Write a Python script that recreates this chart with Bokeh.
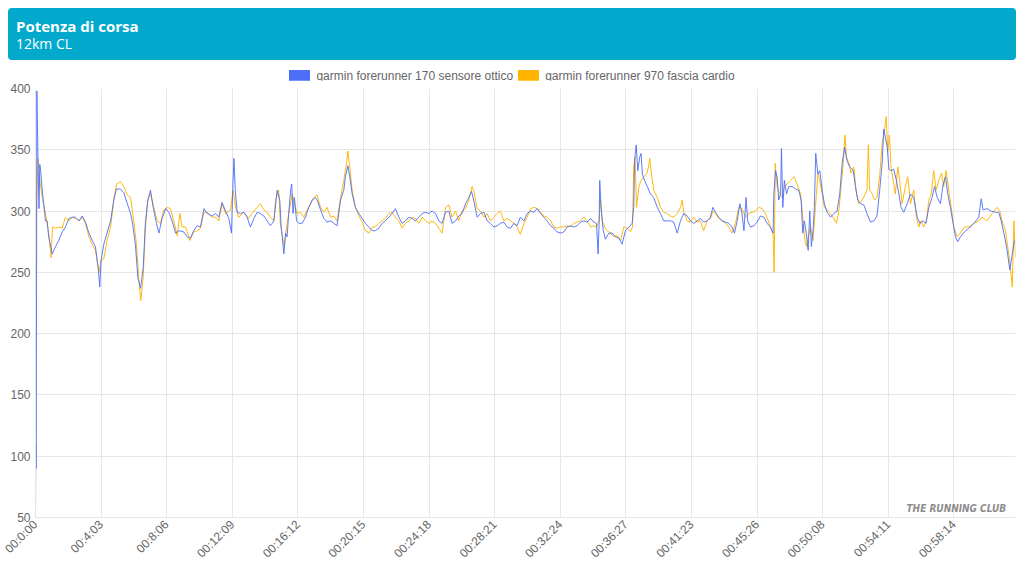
from bokeh.plotting import figure
from bokeh.models import Range1d, FixedTicker, Label, Div
from bokeh.layouts import column
from bokeh.embed import file_html
from bokeh.resources import INLINE
import math

TITLE = "Potenza di corsa"
SUBTITLE = "12km CL"
BLUE_NAME = "garmin forerunner 170 sensore ottico"
YELLOW_NAME = "garmin forerunner 970 fascia cardio"
WATERMARK = "THE RUNNING CLUB"
BLUE = "#4d6ef7"
YELLOW = "#ffb400"
HEADER_BG = "#02a9cc"

tick_idx = [0, 243, 486, 729, 972, 1215, 1458, 1701, 1944, 2187, 2430, 2673, 2916, 3159, 3402]
tick_labels = ["00:0:00", "00:4:03", "00:8:06", "00:12:09", "00:16:12", "00:20:15", "00:24:18",
               "00:28:21", "00:32:24", "00:36:27", "00:41:23", "00:45:26", "00:50:08",
               "00:54:11", "00:58:14"]
n_samples = 3630
y_ticks = [50, 100, 150, 200, 250, 300, 350, 400]

blue_idx = [0, 1, 2, 3, 5, 9, 13, 16, 19, 25, 37, 43, 49, 62, 74, 86, 99, 111, 124, 136, 148, 161, 173,
            185, 198, 210, 222, 232, 238, 243, 253, 265, 278, 290, 300, 315, 327, 340, 352, 358, 370,
            379, 389, 399, 407, 416, 426, 436, 448, 457, 469, 482, 494, 506, 519, 531, 549, 562, 574,
            586, 599, 611, 624, 636, 654, 667, 679, 691, 704, 716, 726, 730, 735, 740, 747, 759, 772,
            784, 796, 809, 821, 833, 846, 858, 870, 883, 895, 905, 910, 914, 920, 926, 932, 938, 945,
            949, 954, 959, 967, 975, 988, 1000, 1012, 1025, 1037, 1043, 1056, 1068, 1080, 1093, 1105,
            1117, 1130, 1142, 1148, 1157, 1164, 1173, 1185, 1198, 1210, 1222, 1235, 1247, 1259, 1272,
            1284, 1296, 1309, 1321, 1333, 1346, 1358, 1370, 1383, 1395, 1407, 1420, 1432, 1445, 1457,
            1469, 1482, 1494, 1506, 1519, 1531, 1543, 1556, 1568, 1580, 1593, 1605, 1615, 1623, 1636,
            1648, 1661, 1673, 1685, 1698, 1710, 1722, 1735, 1747, 1759, 1772, 1784, 1796, 1809, 1821,
            1834, 1846, 1858, 1871, 1883, 1895, 1908, 1920, 1932, 1945, 1957, 1969, 1982, 1994, 2006,
            2019, 2031, 2043, 2056, 2068, 2078, 2084, 2088, 2090, 2095, 2103, 2111, 2124, 2136, 2148,
            2161, 2173, 2185, 2198, 2210, 2216, 2219, 2225, 2231, 2238, 2243, 2248, 2256, 2266, 2278,
            2290, 2303, 2315, 2327, 2340, 2352, 2364, 2377, 2389, 2401, 2414, 2426, 2438, 2451, 2463,
            2475, 2488, 2500, 2509, 2519, 2531, 2543, 2556, 2568, 2580, 2589, 2599, 2609, 2617, 2624,
            2632, 2638, 2648, 2661, 2673, 2685, 2698, 2710, 2722, 2732, 2735, 2741, 2747, 2753, 2760,
            2763, 2768, 2774, 2782, 2790, 2803, 2815, 2827, 2836, 2842, 2848, 2855, 2862, 2868, 2874,
            2880, 2885, 2890, 2898, 2905, 2914, 2922, 2932, 2945, 2957, 2969, 2979, 2988, 2997, 3006,
            3016, 3029, 3037, 3046, 3056, 3068, 3080, 3093, 3105, 3117, 3127, 3136, 3142, 3148, 3155,
            3161, 3169, 3179, 3189, 3198, 3206, 3216, 3229, 3241, 3253, 3266, 3276, 3288, 3298, 3309,
            3321, 3330, 3340, 3352, 3362, 3371, 3379, 3389, 3399, 3408, 3416, 3426, 3441, 3457, 3476,
            3494, 3503, 3510, 3525, 3540, 3556, 3568, 3577, 3587, 3599, 3609, 3618, 3626]
blue_val = [50, 110, 90, 112, 398, 345, 302, 338, 333, 317, 292, 292, 279, 265, 271, 276, 283, 287, 294,
            295, 295, 292, 296, 291, 282, 276, 271, 254, 238, 260, 273, 282, 292, 309, 318, 318, 315,
            306, 298, 292, 273, 246, 237, 254, 290, 309, 317, 303, 290, 282, 294, 302, 299, 292, 282,
            284, 283, 279, 278, 284, 288, 287, 302, 298, 296, 298, 295, 307, 300, 294, 282, 314, 343,
            317, 299, 298, 299, 295, 287, 294, 299, 298, 296, 292, 288, 292, 317, 309, 287, 279, 265,
            282, 279, 298, 317, 322, 298, 311, 292, 290, 290, 295, 303, 309, 311, 309, 301, 294, 291,
            292, 290, 288, 309, 317, 328, 337, 328, 314, 303, 298, 294, 290, 287, 284, 284, 286, 290,
            292, 295, 298, 302, 295, 290, 292, 295, 294, 292, 295, 298, 299, 298, 300, 298, 292, 290,
            299, 300, 290, 292, 296, 298, 306, 311, 316, 309, 295, 298, 299, 292, 290, 287, 288, 290,
            291, 287, 286, 290, 288, 295, 292, 298, 300, 299, 302, 298, 295, 292, 288, 286, 283, 282,
            283, 287, 288, 287, 288, 291, 292, 291, 294, 291, 290, 265, 292, 325, 303, 284, 277, 282,
            282, 279, 278, 273, 284, 287, 290, 303, 341, 354, 333, 344, 347, 330, 325, 320, 314, 311,
            303, 298, 292, 292, 292, 291, 282, 292, 298, 296, 292, 290, 292, 294, 291, 292, 295, 303,
            299, 295, 292, 291, 290, 287, 282, 292, 306, 298, 284, 311, 292, 287, 288, 291, 296, 295,
            290, 287, 282, 314, 333, 328, 309, 314, 351, 303, 325, 314, 320, 320, 318, 317, 309, 282,
            292, 282, 268, 300, 271, 284, 303, 347, 330, 333, 317, 306, 299, 295, 298, 300, 314, 339,
            352, 341, 336, 333, 320, 309, 306, 305, 298, 291, 292, 296, 317, 339, 367, 360, 352, 334,
            333, 334, 325, 314, 303, 299, 306, 314, 311, 295, 290, 292, 290, 303, 311, 320, 311, 306,
            322, 328, 314, 303, 290, 279, 275, 279, 283, 286, 290, 295, 310, 301, 302, 300, 299, 299,
            292, 282, 268, 252, 265, 276]

yellow_idx = [0, 2, 4, 9, 16, 25, 37, 49, 58, 63, 74, 86, 99, 111, 124, 136, 148, 161, 173, 185, 198,
              210, 222, 235, 243, 253, 265, 278, 290, 300, 315, 327, 340, 352, 364, 374, 383, 390, 399,
              407, 416, 426, 438, 451, 463, 475, 488, 500, 512, 525, 535, 543, 556, 572, 586, 599, 611,
              624, 636, 654, 667, 679, 691, 704, 722, 732, 741, 753, 772, 790, 802, 821, 833, 846, 858,
              870, 883, 889, 901, 907, 917, 922, 932, 942, 951, 959, 969, 982, 994, 1006, 1019, 1031,
              1043, 1056, 1068, 1080, 1093, 1105, 1117, 1130, 1142, 1152, 1157, 1164, 1173, 1185, 1198,
              1210, 1222, 1235, 1247, 1259, 1272, 1284, 1296, 1309, 1321, 1333, 1346, 1358, 1370, 1383,
              1395, 1407, 1420, 1432, 1445, 1457, 1469, 1482, 1494, 1506, 1519, 1531, 1543, 1556, 1568,
              1580, 1593, 1605, 1617, 1623, 1636, 1648, 1661, 1673, 1685, 1698, 1710, 1722, 1735, 1747,
              1759, 1772, 1784, 1796, 1809, 1821, 1834, 1846, 1858, 1871, 1883, 1895, 1908, 1920, 1932,
              1945, 1957, 1969, 1982, 1994, 2006, 2019, 2031, 2043, 2056, 2068, 2078, 2087, 2093, 2099,
              2108, 2117, 2130, 2142, 2154, 2167, 2179, 2192, 2204, 2211, 2216, 2221, 2226, 2235, 2243,
              2253, 2263, 2271, 2275, 2283, 2290, 2303, 2315, 2327, 2340, 2352, 2364, 2377, 2389, 2395,
              2401, 2414, 2426, 2438, 2451, 2463, 2475, 2488, 2500, 2509, 2519, 2531, 2543, 2556, 2568,
              2580, 2593, 2605, 2617, 2630, 2642, 2654, 2667, 2679, 2692, 2704, 2716, 2722, 2732, 2736,
              2740, 2747, 2757, 2766, 2774, 2784, 2797, 2809, 2821, 2834, 2843, 2850, 2856, 2862, 2871,
              2880, 2889, 2898, 2905, 2914, 2922, 2932, 2945, 2957, 2967, 2976, 2984, 2992, 2998, 3004,
              3013, 3021, 3031, 3041, 3050, 3062, 3074, 3080, 3085, 3090, 3099, 3108, 3117, 3127, 3136,
              3145, 3151, 3157, 3163, 3169, 3177, 3185, 3194, 3201, 3210, 3222, 3231, 3241, 3253, 3263,
              3272, 3280, 3290, 3300, 3309, 3318, 3327, 3336, 3346, 3356, 3364, 3373, 3383, 3392, 3401,
              3414, 3426, 3441, 3457, 3476, 3494, 3506, 3525, 3543, 3562, 3572, 3580, 3593, 3605, 3611,
              3618, 3624, 3630]
yellow_val = [175, 250, 300, 343, 325, 311, 298, 282, 262, 287, 286, 287, 286, 295, 292, 295, 294, 292,
              295, 290, 279, 273, 268, 250, 260, 261, 276, 287, 309, 322, 324, 320, 313, 311, 292, 273,
              243, 227, 246, 287, 309, 314, 303, 292, 290, 301, 303, 302, 292, 280, 298, 287, 287, 276,
              283, 284, 286, 299, 299, 295, 295, 292, 306, 298, 301, 317, 303, 295, 299, 294, 298, 303,
              306, 301, 299, 295, 292, 309, 317, 290, 276, 272, 290, 303, 314, 306, 298, 299, 295, 301,
              306, 311, 313, 303, 299, 303, 295, 296, 292, 311, 325, 339, 349, 336, 317, 303, 296, 291,
              284, 282, 287, 287, 290, 292, 294, 298, 299, 295, 292, 286, 290, 292, 295, 294, 290, 295,
              292, 290, 292, 290, 286, 282, 303, 305, 295, 300, 292, 300, 302, 309, 320, 317, 302, 300,
              295, 298, 292, 295, 298, 300, 292, 294, 292, 290, 287, 281, 290, 295, 302, 303, 302, 299,
              296, 295, 292, 287, 286, 287, 287, 288, 287, 290, 291, 292, 295, 292, 287, 288, 287, 292,
              309, 292, 287, 284, 282, 279, 280, 276, 287, 286, 283, 287, 336, 344, 303, 320, 325, 328,
              330, 336, 343, 328, 317, 311, 303, 299, 298, 296, 295, 298, 303, 309, 299, 292, 291, 295,
              291, 292, 284, 292, 294, 300, 298, 294, 292, 290, 287, 282, 290, 303, 302, 295, 298, 299,
              300, 303, 302, 298, 291, 287, 282, 250, 339, 320, 314, 311, 320, 322, 325, 328, 322, 314,
              292, 276, 271, 279, 287, 276, 303, 330, 325, 314, 303, 301, 298, 294, 290, 301, 320, 339,
              362, 344, 339, 331, 336, 314, 306, 309, 314, 317, 354, 317, 314, 309, 311, 329, 355, 366,
              377, 349, 362, 336, 325, 314, 336, 325, 306, 320, 328, 306, 317, 295, 287, 292, 287, 292,
              309, 314, 333, 317, 325, 331, 320, 333, 317, 303, 287, 279, 282, 287, 287, 290, 292, 295,
              292, 298, 303, 300, 292, 284, 265, 254, 238, 292, 262]

FONT = "Liberation Sans"
GRID = "#e6e6e6"
TXT = "#666666"

# ---------- header + legend (HTML) ----------
swatch = "display:inline-block;width:21px;height:11px;margin-right:6px;background:{};"
header_html = f"""
<div style="position:relative;width:1024px;height:80px;">
  <div style="position:absolute;left:8px;top:8px;width:1008px;height:52px;background:{HEADER_BG};
              border-radius:4px;"></div>
  <div style="position:absolute;left:16px;top:19px;color:white;font-family:'Open Sans';
              font-weight:bold;font-size:15px;line-height:15px;white-space:nowrap;">{TITLE}</div>
  <div style="position:absolute;left:16px;top:37px;color:white;font-family:'Open Sans';
              font-size:14px;line-height:14px;white-space:nowrap;">{SUBTITLE}</div>
  <div style="position:absolute;left:0;top:70px;width:1024px;height:11px;display:flex;
              justify-content:center;align-items:center;font-family:'Liberation Sans';
              font-size:12px;line-height:12px;color:{TXT};white-space:nowrap;">
    <span style="{swatch.format(BLUE)}"></span><span style="margin-right:5px;">{BLUE_NAME}</span>
    <span style="{swatch.format(YELLOW)}"></span><span>{YELLOW_NAME}</span>
  </div>
</div>
"""
header = Div(text=header_html, width=1024, height=80, margin=0)

# ---------- chart ----------
p = figure(width=1024, height=496, output_backend="svg", toolbar_location=None,
           x_range=Range1d(0, n_samples), y_range=Range1d(50, 400),
           min_border_left=35, min_border_right=9, min_border_top=8, min_border_bottom=59)
p.outline_line_color = None
p.background_fill_color = "white"
p.border_fill_color = "white"

r_y = p.line(yellow_idx, yellow_val, line_color=YELLOW, line_width=1, line_alpha=0.95)
r_b = p.line(blue_idx, blue_val, line_color=BLUE, line_width=1, line_alpha=0.9)

p.xaxis.ticker = FixedTicker(ticks=tick_idx)
p.xaxis.major_label_overrides = {t: l for t, l in zip(tick_idx, tick_labels)}
p.xaxis.major_label_orientation = math.pi / 4
p.yaxis.ticker = FixedTicker(ticks=y_ticks)
for ax in (p.xaxis, p.yaxis):
    ax.major_label_text_font = FONT
    ax.major_label_text_font_size = "12px"
    ax.major_label_text_color = TXT
    ax.axis_line_color = GRID
    ax.major_tick_line_color = None
    ax.minor_tick_line_color = None
    ax.major_tick_out = 0
    ax.major_tick_in = 0
    ax.major_label_standoff = 5
p.xgrid.grid_line_color = GRID
p.ygrid.grid_line_color = GRID

p.add_layout(Label(x=3595, y=53, text=WATERMARK, text_align="right",
                   text_baseline="bottom", text_font="DejaVu Sans Condensed",
                   text_font_style="bold italic", text_font_size="10px", text_color="#8c8c8c"))

layout = column(header, p, spacing=0)
open("out.html", "w").write(file_html(layout, INLINE))
